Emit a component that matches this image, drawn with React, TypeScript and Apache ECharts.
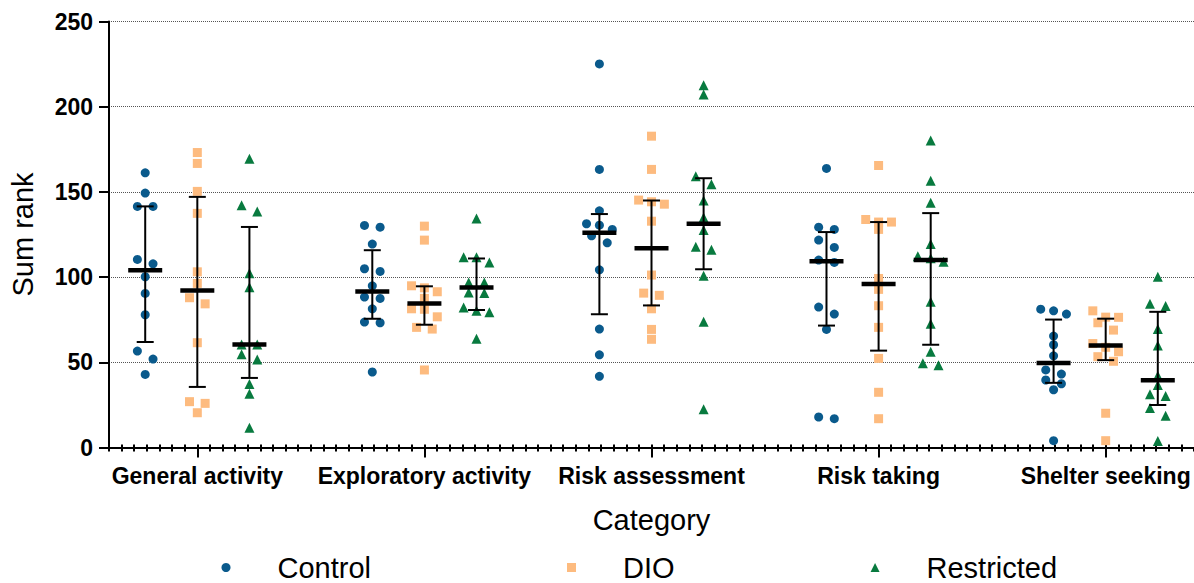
import React, { useEffect, useRef } from "react";
import * as echarts from "echarts";

const categories = ["General activity", "Exploratory activity", "Risk assessment", "Risk taking", "Shelter seeking"];
const seriesNames = ["Control", "DIO", "Restricted"];
const colors = ["#0a5a8c", "#fdbb7f", "#087a3f"];
const symbols = ["circle", "rect", "triangle"];

const controlValues = [
  [161.2, 149.3, 141.5, 141.5, 110.4, 107.8, 100.2, 90.4, 77.9, 56.6, 51.9, 42.9],
  [130.3, 129.3, 119.4, 104.9, 103.3, 94.9, 88.3, 87.5, 81.4, 73.6, 73.2, 44.3],
  [225.1, 163.2, 138.9, 131.3, 130.5, 128.0, 124.2, 120.1, 104.3, 69.5, 54.4, 41.8],
  [163.8, 129.3, 128.0, 121.7, 117.4, 110.0, 108.6, 82.4, 78.3, 69.3, 17.9, 16.9],
  [81.2, 80.2, 78.3, 65.4, 60.3, 53.8, 45.5, 43.1, 39.6, 37.4, 33.9, 4.0],
];
const dioValues = [
  [173.1, 166.7, 150.3, 137.4, 103.1, 96.3, 87.9, 84.3, 61.5, 26.9, 25.9, 20.4],
  [129.9, 121.7, 94.9, 93.7, 91.4, 87.5, 81.4, 81.1, 76.7, 70.5, 69.5, 45.5],
  [182.7, 163.2, 145.2, 144.2, 142.8, 132.8, 101.2, 90.6, 89.3, 81.4, 69.3, 63.5],
  [165.5, 133.8, 132.3, 132.3, 128.0, 99.2, 92.8, 83.2, 70.5, 52.3, 32.4, 16.9],
  [80.2, 76.5, 76.4, 73.2, 68.9, 61.0, 58.8, 56.2, 53.3, 50.6, 20.1, 4.0],
];
const restrictedValues = [
  [169.4, 142.1, 138.5, 102.2, 94.0, 60.5, 60.5, 54.7, 51.7, 37.2, 31.6, 11.6],
  [134.4, 111.7, 111.7, 108.6, 96.9, 96.9, 91.0, 90.6, 82.2, 80.2, 79.3, 63.8],
  [212.6, 207.2, 159.2, 154.5, 145.0, 135.0, 127.6, 117.8, 116.0, 100.8, 73.8, 22.4],
  [180.2, 156.5, 143.6, 119.4, 112.3, 111.0, 109.0, 85.5, 72.6, 56.2, 49.4, 48.2],
  [100.2, 84.3, 83.0, 69.5, 59.9, 42.1, 36.7, 31.2, 30.2, 23.2, 18.7, 3.8],
];
const yTicks = [0, 50, 100, 150, 200, 250];

const allValues = [controlValues, dioValues, restrictedValues];

const FONT = "'Liberation Sans', Arial, Helvetica, sans-serif";
const X_STEP = 18;
const X_MIN = -7;
const X_MAX = 79;
const GROUP_OFFSET = [-4.13, 0, 4.13];
const PAIR = 0.62;
const COL = 1.02;
const ROW_GAP = 5;

function quantile(sortedAsc: number[], p: number) {
  const n = sortedAsc.length;
  const pos = p * (n + 1);
  const lo = Math.floor(pos);
  if (lo < 1) return sortedAsc[0];
  if (lo >= n) return sortedAsc[n - 1];
  return sortedAsc[lo - 1] + (pos - lo) * (sortedAsc[lo] - sortedAsc[lo - 1]);
}

function swarm(values: number[]) {
  const desc = [...values].sort((a, b) => b - a);
  const rows: number[][] = [];
  desc.forEach((v) => {
    const last = rows[rows.length - 1];
    if (last && last[0] - v < ROW_GAP) last.push(v);
    else rows.push([v]);
  });
  const out: [number, number][] = [];
  rows.forEach((row) => {
    const n = row.length;
    row.forEach((v, i) => {
      let dx = 0;
      if (n === 2) dx = i === 0 ? -PAIR : PAIR;
      else if (n > 2) dx = (i - (n - 1) / 2) * COL;
      out.push([dx, v]);
    });
  });
  return out;
}

export default function App() {
  const ref = useRef<HTMLDivElement>(null);
  useEffect(() => {
    if (!ref.current) return;
    const chart = echarts.init(ref.current, null, { renderer: "svg" });
    const catX = categories.map((_, i) => i * X_STEP);
    const minorX: number[] = [];
    for (let v = X_MIN; v <= X_MAX; v++) minorX.push(v);

    const scatterSeries = seriesNames.map((name, g) => {
      const data: number[][] = [];
      allValues[g].forEach((vals, c) => {
        swarm(vals).forEach(([dx, v]) => data.push([c * X_STEP + GROUP_OFFSET[g] + dx, v]));
      });
      return {
        name,
        type: "scatter",
        xAxisIndex: 0,
        symbol: symbols[g],
        symbolSize: g === 2 ? 10 : 9,
        itemStyle: { color: colors[g], opacity: 1 },
        data,
        z: 2,
        silent: true,
      };
    });

    const summary: number[][] = [];
    allValues.forEach((groupVals, g) => {
      groupVals.forEach((vals, c) => {
        const s = [...vals].sort((a, b) => a - b);
        summary.push([c * X_STEP + GROUP_OFFSET[g], quantile(s, 0.5), quantile(s, 0.25), quantile(s, 0.75)]);
      });
    });

    const summarySeries = {
      name: "summary",
      type: "custom",
      xAxisIndex: 0,
      z: 5,
      silent: true,
      encode: { x: 0, y: [1, 2, 3] },
      data: summary,
      renderItem: (params: any, api: any) => {
        const x = api.value(0);
        const pm = api.coord([x, api.value(1)]);
        const p1 = api.coord([x, api.value(2)]);
        const p3 = api.coord([x, api.value(3)]);
        const cx = pm[0];
        const st = { stroke: "#000", lineWidth: 2 };
        return {
          type: "group",
          children: [
            { type: "line", shape: { x1: cx, y1: p3[1], x2: cx, y2: p1[1] }, style: st },
            { type: "line", shape: { x1: cx - 8.5, y1: p3[1], x2: cx + 8.5, y2: p3[1] }, style: st },
            { type: "line", shape: { x1: cx - 8.5, y1: p1[1], x2: cx + 8.5, y2: p1[1] }, style: st },
            { type: "line", shape: { x1: cx - 17, y1: pm[1], x2: cx + 17, y2: pm[1] }, style: { stroke: "#000", lineWidth: 4.5 } },
          ],
        };
      },
    };

    const option: any = {
      animation: false,
      textStyle: { fontFamily: FONT },
      grid: { left: 108, right: -5, top: 21.5, bottom: 135.5, containLabel: false },
      legend: {
        data: seriesNames,
        left: 216.5,
        top: 548,
        itemWidth: 9,
        itemHeight: 9,
        itemGap: 196,
        selectedMode: false,
        textStyle: { fontSize: 29, color: "#000", fontFamily: FONT, padding: [0, 0, 0, 42] },
      },
      xAxis: [
        {
          type: "value",
          position: "bottom",
          min: X_MIN,
          max: X_MAX,
          interval: 1,
          axisLine: { show: true, onZero: false, lineStyle: { color: "#000", width: 2 } },
          axisTick: { show: true, inside: true, length: 3, customValues: minorX, lineStyle: { color: "#000", width: 2 } },
          axisLabel: {
            show: true,
            formatter: (v: number) => (v >= 0 && v % X_STEP === 0 ? categories[v / X_STEP] ?? "" : ""),
            fontSize: 23,
            fontWeight: "bold",
            color: "#000",
            margin: 17,
            fontFamily: FONT,
            showMaxLabel: false,
          },
          splitLine: { show: false },
          name: "Category",
          nameLocation: "middle",
          nameGap: 58,
          nameTextStyle: { fontSize: 29, color: "#000", fontFamily: FONT },
        },
        {
          type: "value",
          position: "bottom",
          offset: 0,
          min: X_MIN,
          max: X_MAX,
          axisLine: { show: false, onZero: false },
          axisTick: { show: true, length: 10, customValues: catX, lineStyle: { color: "#000", width: 2 } },
          axisLabel: { show: false },
          splitLine: { show: false },
        },
        {
          type: "value",
          position: "bottom",
          offset: 0,
          min: X_MIN,
          max: X_MAX,
          axisLine: { show: false, onZero: false },
          axisTick: { show: true, length: 4, customValues: minorX, lineStyle: { color: "#000", width: 2 } },
          axisLabel: { show: false },
          splitLine: { show: false },
        },
      ],
      yAxis: {
        type: "value",
        min: yTicks[0],
        max: yTicks[yTicks.length - 1],
        interval: 50,
        axisLine: { show: true, onZero: false, lineStyle: { color: "#000", width: 2 } },
        axisTick: { show: true, length: 10, lineStyle: { color: "#000", width: 2 } },
        axisLabel: { fontSize: 23, fontWeight: "bold", color: "#000", margin: 16, fontFamily: FONT },
        splitLine: { show: true, lineStyle: { type: "dotted", color: "#555", width: 1 } },
        name: "Sum rank",
        nameLocation: "middle",
        nameGap: 72,
        nameTextStyle: { fontSize: 29, color: "#000", fontFamily: FONT },
      },
      series: [...scatterSeries, summarySeries],
    };
    chart.setOption(option);
    return () => chart.dispose();
  }, []);
  return <div ref={ref} style={{ width: 1194, height: 583, position: "absolute", left: 0, top: 0 }} />;
}
